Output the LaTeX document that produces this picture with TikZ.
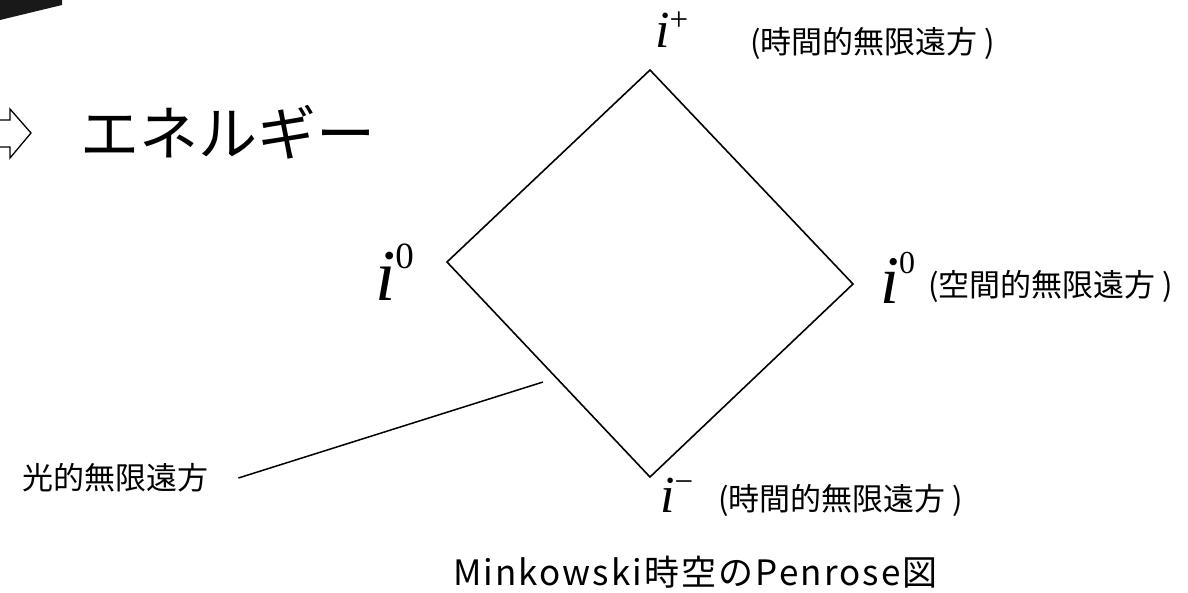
\documentclass[tikz,border=0pt]{standalone}
\usepackage{fontspec}
\setmainfont{Liberation Serif}
\newfontfamily\jpfont{Noto Sans CJK JP}
\newfontfamily\capfont{Noto Sans CJK JP}[LetterSpace=6]
\newcommand{\penidx}[4]{{\fontsize{#1}{#1}\selectfont\itshape i}\raisebox{#3}{\fontsize{#2}{#2}\selectfont #4}}

\begin{document}
\begin{tikzpicture}[
  x=1pt, y=-1pt,
  jp label/.style={font=\jpfont\fontsize{31}{31}\selectfont, anchor=west, inner sep=0pt},
  idx label/.style={anchor=base west, inner sep=0pt},
  edge line/.style={line width=1.6pt, line join=miter},
]
\useasboundingbox (0,0) rectangle (1188,592);

% Remains of the slide decoration
\fill[black!90] (0,0) -- (62,0) -- (62,5) -- (0,20) -- cycle;
\draw[line width=1.3pt, line join=miter]
  (-10,120) -- (10,120) -- (10,109) -- (31,133) -- (10,158) -- (10,147) -- (-10,147);
\node[font=\jpfont\fontsize{59}{59}\selectfont, anchor=west, inner sep=0pt]
  (energy) at (80,132) {エネルギー};

% Penrose diamond
\coordinate (top)   at (650,70);
\coordinate (right) at (853,284);
\coordinate (bot)   at (650,477);
\coordinate (left)  at (447,262);
\draw[edge line] (top) -- (right) -- (bot) -- (left) -- cycle;

% Infinity labels
\node[idx label] (iplus)  at (655,47)  {\penidx{52}{33}{17pt}{+}};
\node[idx label] (iminus) at (660,512) {\penidx{52}{33}{20pt}{−}};
\node[idx label] (ileft)  at (375,300) {\penidx{73}{37}{32pt}{0}};
\node[idx label] (iright) at (880,303) {\penidx{68}{32}{30pt}{0}};

\node[jp label] (timeup)   at (750,43)  {(時間的無限遠方 )};
\node[jp label] (space)    at (928,286) {(空間的無限遠方 )};
\node[jp label] (timedown) at (718,500) {(時間的無限遠方 )};

% Null infinity with leader
\node[jp label] (light) at (22,478) {光的無限遠方};
\coordinate (lightend) at (543,382);
\draw[line width=1.5pt] ([xshift=30pt]light.east) -- (lightend);

% Caption
\node[font=\capfont\fontsize{35}{35}\selectfont, anchor=west, inner sep=0pt]
  (caption) at (453,572) {Minkowski時空のPenrose図};

\end{tikzpicture}
\end{document}
